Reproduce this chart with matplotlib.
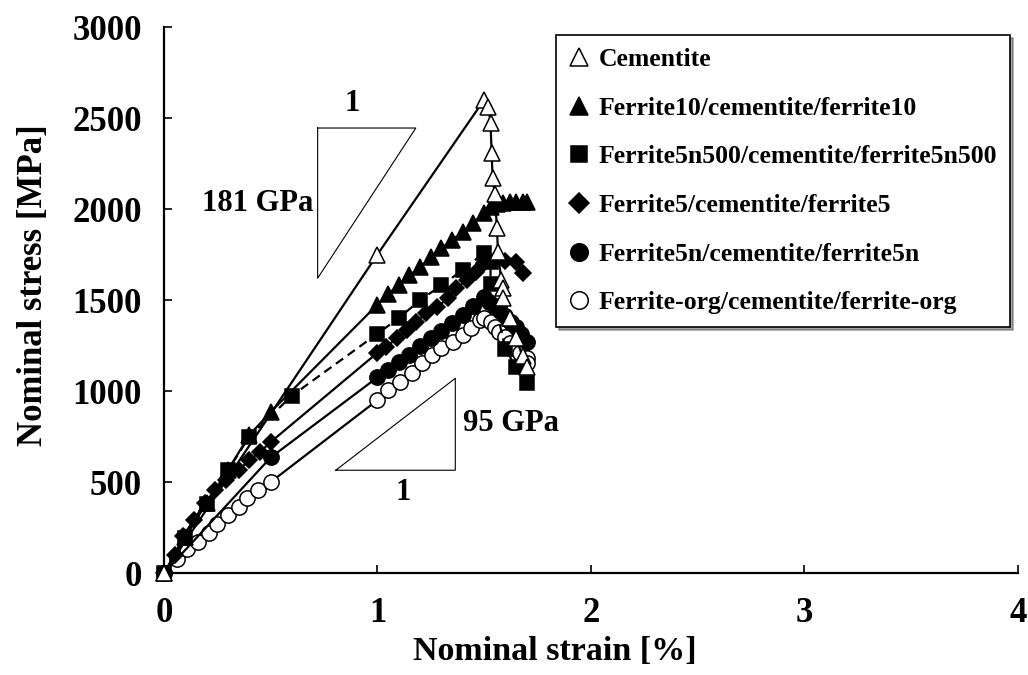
import matplotlib
matplotlib.use("Agg")
import matplotlib.pyplot as plt

plt.rcParams["font.family"] = ["Liberation Serif", "DejaVu Serif"]
plt.rcParams["font.weight"] = "bold"

# Nominal strain [%] / nominal stress [MPa] for each laminate
cementite_x = [0, 1.0, 1.5, 1.52, 1.53, 1.535, 1.54, 1.55, 1.56, 1.565, 1.58,
               1.59, 1.59, 1.62, 1.65, 1.68, 1.70]
cementite_y = [0, 1750, 2600, 2560, 2475, 2310, 2170, 2080, 1895, 1765, 1610,
               1565, 1510, 1400, 1290, 1190, 1130]

ferrite10_x = [0, 0.1, 0.2, 0.3, 0.4, 0.5, 1.0, 1.05, 1.1, 1.15, 1.2, 1.25,
               1.3, 1.35, 1.4, 1.45, 1.5, 1.53, 1.56, 1.59, 1.62, 1.65, 1.68, 1.7]
ferrite10_y = [0, 200, 385, 566, 758, 885, 1475, 1535, 1580, 1635, 1680, 1735,
               1785, 1830, 1875, 1925, 1980, 2010, 2025, 2035, 2040, 2040, 2040, 2040]

ferrite5n500_x = [0, 0.1, 0.2, 0.3, 0.4, 0.6, 1.0, 1.1, 1.2, 1.3, 1.4, 1.5,
                  1.53, 1.53, 1.6, 1.65, 1.7]
ferrite5n500_y = [0, 190, 380, 565, 750, 975, 1315, 1400, 1500, 1580, 1665, 1760,
                  1710, 1590, 1230, 1130, 1045]

ferrite5_x = [0, 0.05, 0.09, 0.14, 0.19, 0.24, 0.29, 0.35, 0.40, 0.45, 0.5,
              1.0, 1.04, 1.09, 1.14, 1.18, 1.23, 1.28, 1.33, 1.37, 1.42, 1.46,
              1.5, 1.55, 1.6, 1.65, 1.68]
ferrite5_y = [0, 100, 205, 290, 385, 455, 510, 566, 620, 665, 720,
              1210, 1240, 1290, 1335, 1380, 1430, 1460, 1510, 1565, 1610, 1655,
              1705, 1720, 1715, 1710, 1648]

ferrite5n_x = [0, 0.5, 1.0, 1.05, 1.1, 1.15, 1.2, 1.25, 1.3, 1.35, 1.4, 1.45,
               1.5, 1.525, 1.55, 1.575, 1.6, 1.625, 1.65, 1.675, 1.7]
ferrite5n_y = [0, 635, 1075, 1115, 1160, 1200, 1245, 1290, 1330, 1375, 1420, 1465,
               1515, 1490, 1465, 1440, 1410, 1380, 1350, 1315, 1270]

ferrite_org_x = [0, 0.06, 0.11, 0.16, 0.21, 0.25, 0.30, 0.35, 0.39, 0.44, 0.5,
                 1.0, 1.05, 1.105, 1.16, 1.21, 1.255, 1.30, 1.355, 1.40, 1.44,
                 1.48, 1.50, 1.53, 1.55, 1.57, 1.60, 1.62, 1.64, 1.67, 1.70, 1.70]
ferrite_org_y = [0, 80, 130, 170, 220, 270, 320, 365, 410, 455, 500,
                 950, 1005, 1050, 1100, 1155, 1200, 1236, 1270, 1308, 1346,
                 1390, 1400, 1380, 1352, 1325, 1297, 1265, 1236, 1210, 1181, 1155]

labels = ["Cementite",
          "Ferrite10/cementite/ferrite10",
          "Ferrite5n500/cementite/ferrite5n500",
          "Ferrite5/cementite/ferrite5",
          "Ferrite5n/cementite/ferrite5n",
          "Ferrite-org/cementite/ferrite-org"]

# slope guide triangles (strain, stress)
slope_hi_x = [0.72, 1.18, 0.72, 0.72]
slope_hi_y = [2445, 2445, 1620, 2445]
slope_lo_x = [0.805, 1.365, 1.365, 0.805]
slope_lo_y = [565, 565, 1070, 565]

fig = plt.figure(figsize=(10.28, 6.75), dpi=100)
ax = fig.add_axes([0.1595, 0.151, 0.8305, 0.809])

series = [
    (cementite_x, cementite_y, "^", "white", "-", 6),
    (ferrite10_x, ferrite10_y, "^", "black", "-", 5),
    (ferrite5n500_x, ferrite5n500_y, "s", "black", (0, (4, 2.5)), 4),
    (ferrite5_x, ferrite5_y, "D", "black", "-", 3),
    (ferrite5n_x, ferrite5n_y, "o", "black", "-", 2),
    (ferrite_org_x, ferrite_org_y, "o", "white", "-", 1),
]
sizes = {"^": 11, "s": 9.5, "D": 8.5, "o": 11}

handles = []
for (xs, ys, mk, fc, ls, z), lab in zip(series, labels):
    ax.plot(xs, ys, color="black", linestyle=ls, linewidth=1.6, zorder=z,
            clip_on=False)
    h, = ax.plot(xs, ys, linestyle="none", marker=mk, markersize=sizes[mk],
                 markerfacecolor=fc, markeredgecolor="black",
                 markeredgewidth=1.1, zorder=z + 0.5, clip_on=False, label=lab)
    handles.append(h)

ax.plot(slope_hi_x, slope_hi_y, color="black", linewidth=0.8)
ax.plot(slope_lo_x, slope_lo_y, color="black", linewidth=0.8)
ax.text(0.88, 2500, "1", fontsize=22, ha="center", va="bottom")
ax.text(0.70, 2030, "181 GPa", fontsize=22, ha="right", va="center")
ax.text(1.12, 520, "1", fontsize=22, ha="center", va="top")
ax.text(1.40, 820, "95 GPa", fontsize=22, ha="left", va="center")

ax.set_xlim(0, 4)
ax.set_ylim(0, 3000)
ax.set_xticks([0, 1, 2, 3, 4])
ax.set_yticks(range(0, 3001, 500))
ax.tick_params(direction="in", length=6, width=1.2, labelsize=25, pad=16)
ax.tick_params(axis="x", pad=17)
for s in ("top", "right"):
    ax.spines[s].set_visible(False)
for s in ("left", "bottom"):
    ax.spines[s].set_linewidth(1.6)

ax.set_xlabel("Nominal strain [%]", fontsize=24.5, fontweight="bold")
ax.set_ylabel("Nominal stress [MPa]", fontsize=25, fontweight="bold")
ax.xaxis.set_label_coords(0.458, -0.115)
ax.yaxis.set_label_coords(-0.134, 0.527)

leg = fig.legend(handles=handles, loc="upper left",
                 bbox_to_anchor=(0.541, 0.948), frameon=True, fancybox=False,
                 shadow=True, fontsize=18.5, handlelength=0.8, handletextpad=0.35,
                 labelspacing=1.0, borderpad=0.5, borderaxespad=0,
                 markerscale=1.15)
leg.get_frame().set_edgecolor("black")
leg.get_frame().set_linewidth(1.2)

fig.savefig("out.png", dpi=100)
